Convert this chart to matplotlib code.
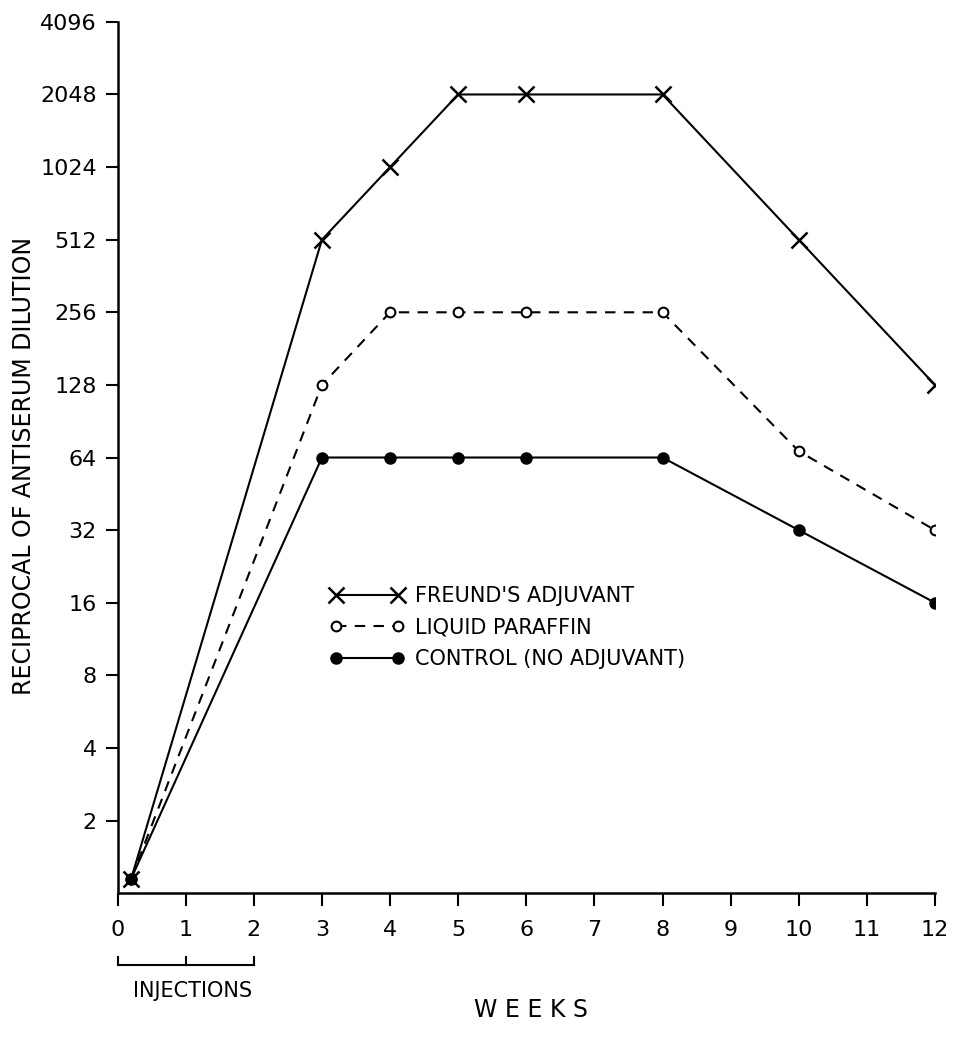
import matplotlib
matplotlib.use("Agg")
import matplotlib.pyplot as plt
import matplotlib.transforms as mtransforms

weeks = [0.2, 3, 4, 5, 6, 8, 10, 12]
freund = [1.15, 512, 1024, 2048, 2048, 2048, 512, 128]
paraffin = [1.15, 128, 256, 256, 256, 256, 68, 32]
control = [1.15, 64, 64, 64, 64, 64, 32, 16]

yticks = [2, 4, 8, 16, 32, 64, 128, 256, 512, 1024, 2048, 4096]
xticks = list(range(0, 13))
injection_weeks = [0, 1, 2]

plt.rcParams['font.family'] = ['DejaVu Sans']

fig = plt.figure(figsize=(9.56, 10.41), dpi=100)
ax = fig.add_axes([0.123, 0.142, 0.855, 0.837])

ax.plot(weeks, freund, '-', color='black', lw=1.5, marker='x', ms=11, mew=1.8,
        label="FREUND'S ADJUVANT")
ax.plot(weeks, paraffin, '--', color='black', lw=1.5, marker='o', ms=7,
        mfc='white', mew=1.5, dashes=(5, 4), label='LIQUID PARAFFIN')
ax.plot(weeks, control, '-', color='black', lw=1.5, marker='o', ms=8,
        mfc='black', label='CONTROL (NO ADJUVANT)')

ax.set_yscale('log', base=2)
ax.set_ylim(1.0, 4096)
ax.set_xlim(0, 12)
ax.set_yticks(yticks)
ax.set_yticklabels([str(v) for v in yticks])
ax.minorticks_off()
ax.set_xticks(xticks)
ax.set_xticklabels([str(v) for v in xticks])

for s in ['top', 'right']:
    ax.spines[s].set_visible(False)
for s in ['left', 'bottom']:
    ax.spines[s].set_linewidth(1.8)
ax.tick_params(axis='both', direction='out', length=9, width=1.5,
               labelsize=16, pad=6)
ax.tick_params(axis='x', pad=10)

ax.set_ylabel('RECIPROCAL OF ANTISERUM DILUTION', fontsize=17)
ax.yaxis.set_label_coords(-0.1, 0.49)

# injections bracket
trans = mtransforms.blended_transform_factory(ax.transData, ax.transAxes)
ax.plot([injection_weeks[0], injection_weeks[-1]], [-0.083, -0.083], color='black',
        lw=1.5, transform=trans, clip_on=False)
for w in injection_weeks:
    ax.plot([w, w], [-0.083, -0.073], color='black', lw=1.5,
            transform=trans, clip_on=False)
ax.text(1.1, -0.112, 'INJECTIONS', transform=trans, ha='center', va='center',
        fontsize=15)
fig.text(0.555, 0.018, 'W E E K S', ha='center', va='bottom', fontsize=17)

leg = ax.legend(loc='upper left', bbox_to_anchor=(0.325, 0.455), bbox_transform=fig.transFigure,
                frameon=False, fontsize=15, numpoints=2, handlelength=3.6,
                labelspacing=0.55, handletextpad=0.5)

fig.savefig('out.png', dpi=100, facecolor='white')
